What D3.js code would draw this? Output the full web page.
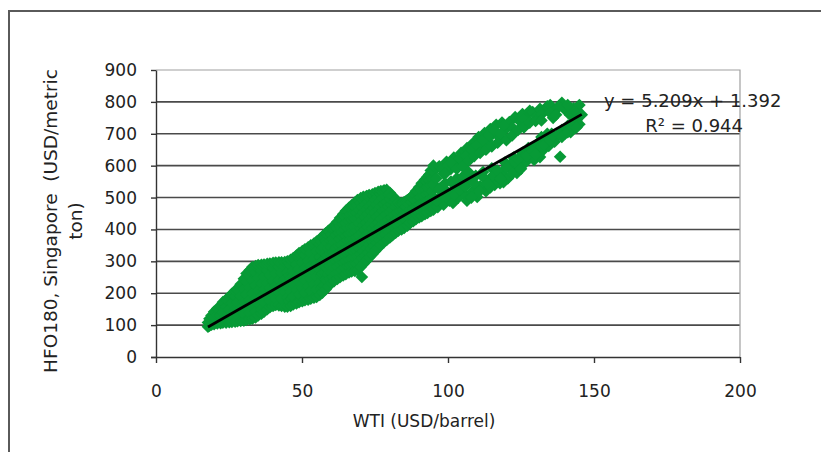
<!DOCTYPE html>
<html>
<head>
<meta charset="utf-8">
<script src="https://cdn.jsdelivr.net/npm/d3@7"></script>
<style>
  html, body { margin: 0; padding: 0; background: #fff; }
  svg { display: block; }
  text { font-family: "DejaVu Sans", Verdana, sans-serif; fill: #222; }
</style>
</head>
<body>
<svg id="chart" width="821" height="452"></svg>
<script>
// Observations: [WTI (USD/barrel), HFO180 Singapore (USD/metric ton)]
const lowPriceYears = [
  [17.8,95],[17.8,108],[18.3,98],[18.3,120],[19.0,101],[19.0,130],
  [19.9,103],[19.9,125],[19.9,142],[21.0,105],[21.0,132],[21.0,152],
  [22.1,106],[22.1,130],[22.1,160],[22.9,108],[22.9,140],[22.9,172],
  [24.0,108],[24.0,128],[24.0,158],[24.0,180],[25.1,109],[25.1,148],[25.1,188],
  [26.0,110],[26.0,130],[26.0,170],[26.0,198],[27.1,111],[27.1,150],[27.1,190],[27.1,208],
  [27.9,112],[27.9,132],[27.9,172],[27.9,212],[29.0,113],[29.0,152],[29.0,192],[29.0,228],
  [30.1,114],[30.1,134],[30.1,174],[30.1,214],[30.1,245],
  [31.0,116],[31.0,156],[31.0,196],[31.0,236],[31.0,262],
  [32.1,118],[32.1,138],[32.1,178],[32.1,218],[32.1,258],[32.1,272],
  [33.0,120],[33.0,160],[33.0,200],[33.0,240],[33.0,282],
  [34.1,124],[34.1,144],[34.1,184],[34.1,224],[34.1,264],[34.1,285],
  [35.0,130],[35.0,168],[35.0,208],[35.0,248],[35.0,288],
  [36.1,136],[36.1,150],[36.1,190],[36.1,230],[36.1,270],[36.1,289],
  [37.0,142],[37.0,172],[37.0,212],[37.0,252],[37.0,290],
  [38.1,150],[38.1,192],[38.1,232],[38.1,272],[38.1,292],
  [39.0,156],[39.0,176],[39.0,216],[39.0,256],[39.0,293],
  [40.1,160],[40.1,198],[40.1,238],[40.1,278],[40.1,295],
  [41.0,163],[41.0,182],[41.0,222],[41.0,262],[41.0,296],
  [42.1,162],[42.1,202],[42.1,242],[42.1,282],[42.1,297],
  [43.0,160],[43.0,184],[43.0,224],[43.0,264],[43.0,297],
  [44.1,158],[44.1,204],[44.1,244],[44.1,284],[44.1,298],
  [45.0,158],[45.0,186],[45.0,226],[45.0,266],[45.0,300],
  [45.6,176],[45.6,216],[45.6,256],[45.6,294],[46.6,182],[46.6,222],[46.6,262],[46.6,300],
  [47.6,180],[47.6,220],[47.6,260],[47.6,300],[48.6,188],[48.6,228],[48.6,268],[48.6,308],
  [49.6,186],[49.6,226],[49.6,266],[49.6,306],[50.6,195],[50.6,235],[50.6,275],[50.6,315],
  [51.6,190],[51.6,230],[51.6,270],[51.6,310],[51.6,335],
  [52.6,198],[52.6,238],[52.6,278],[52.6,318],[52.6,340],
  [53.6,196],[53.6,236],[53.6,276],[53.6,316],[53.6,345],
  [54.6,205],[54.6,245],[54.6,285],[54.6,325],[54.6,352],
  [55.6,200],[55.6,240],[55.6,280],[55.6,320],[55.6,360]
];
const midPriceYears = [
  [46.1,160],[46.1,206],[46.1,246],[46.1,286],[46.1,305],
  [47.0,165],[47.0,190],[47.0,230],[47.0,270],[47.0,310],
  [48.1,168],[48.1,210],[48.1,250],[48.1,290],[48.1,318],
  [49.0,172],[49.0,196],[49.0,236],[49.0,276],[49.0,316],[49.0,326],
  [50.1,175],[50.1,216],[50.1,256],[50.1,296],[50.1,332],
  [51.0,178],[51.0,200],[51.0,240],[51.0,280],[51.0,320],[51.0,338],
  [52.1,180],[52.1,222],[52.1,262],[52.1,302],[52.1,344],
  [53.0,183],[53.0,206],[53.0,246],[53.0,286],[53.0,326],[53.0,350],
  [54.1,186],[54.1,228],[54.1,268],[54.1,308],[54.1,348],[54.1,356],
  [55.0,188],[55.0,212],[55.0,252],[55.0,292],[55.0,332],[55.0,362],
  [56.1,195],[56.1,234],[56.1,274],[56.1,314],[56.1,354],[56.1,370],
  [56.6,215],[56.6,255],[56.6,295],[56.6,335],[56.6,362],
  [57.0,202],[57.0,222],[57.0,262],[57.0,302],[57.0,342],[57.0,378],
  [57.6,225],[57.6,265],[57.6,305],[57.6,345],[57.6,372],
  [58.1,212],[58.1,244],[58.1,284],[58.1,324],[58.1,364],[58.1,388],
  [58.6,238],[58.6,278],[58.6,318],[58.6,358],[58.6,385],
  [59.0,222],[59.0,260],[59.0,300],[59.0,340],[59.0,380],[59.0,396],
  [59.6,245],[59.6,285],[59.6,325],[59.6,365],[59.6,392],
  [60.1,232],[60.1,264],[60.1,304],[60.1,344],[60.1,384],[60.1,404],
  [60.6,250],[60.6,290],[60.6,330],[60.6,370],[60.6,398],
  [61.0,238],[61.0,280],[61.0,320],[61.0,360],[61.0,400],[61.0,412],
  [61.6,262],[61.6,302],[61.6,342],[61.6,382],[61.6,410],
  [62.1,245],[62.1,284],[62.1,324],[62.1,364],[62.1,404],[62.1,424],
  [62.6,268],[62.6,308],[62.6,348],[62.6,388],[62.6,420],
  [63.0,250],[63.0,290],[63.0,330],[63.0,370],[63.0,410],[63.0,436],
  [63.6,272],[63.6,312],[63.6,352],[63.6,392],[63.6,432],
  [64.1,256],[64.1,296],[64.1,336],[64.1,376],[64.1,416],[64.1,448],
  [64.6,280],[64.6,320],[64.6,360],[64.6,400],[64.6,440],
  [65.0,260],[65.0,300],[65.0,340],[65.0,380],[65.0,420],[65.0,458],
  [65.6,285],[65.6,325],[65.6,365],[65.6,405],[65.6,445],[65.6,460],
  [66.1,265],[66.1,306],[66.1,346],[66.1,386],[66.1,426],[66.1,468],
  [66.6,288],[66.6,328],[66.6,368],[66.6,408],[66.6,448],[66.6,468],
  [67.0,268],[67.0,310],[67.0,350],[67.0,390],[67.0,430],[67.0,476],
  [67.6,290],[67.6,330],[67.6,370],[67.6,410],[67.6,450],[67.6,475],
  [68.1,270],[68.1,312],[68.1,352],[68.1,392],[68.1,432],[68.1,472],[68.1,484],
  [68.6,294],[68.6,334],[68.6,374],[68.6,414],[68.6,454],[68.6,484],
  [69.0,273],[69.0,316],[69.0,356],[69.0,396],[69.0,436],[69.0,476],[69.0,492],
  [69.6,300],[69.6,340],[69.6,380],[69.6,420],[69.6,460],[69.6,490],
  [70.1,282],[70.1,322],[70.1,362],[70.1,402],[70.1,442],[70.1,482],[70.1,498],
  [70.5,251],
  [70.6,310],[70.6,350],[70.6,390],[70.6,430],[70.6,470],[70.6,496],
  [71.0,292],[71.0,332],[71.0,372],[71.0,412],[71.0,452],[71.0,492],[71.0,502],
  [71.6,318],[71.6,358],[71.6,398],[71.6,438],[71.6,478],[71.6,500],
  [72.1,302],[72.1,342],[72.1,382],[72.1,422],[72.1,462],[72.1,505],
  [72.6,328],[72.6,368],[72.6,408],[72.6,448],[72.6,488],[72.6,504],
  [73.0,312],[73.0,352],[73.0,392],[73.0,432],[73.0,472],[73.0,508],
  [73.6,338],[73.6,378],[73.6,418],[73.6,458],[73.6,494],
  [74.1,322],[74.1,362],[74.1,402],[74.1,442],[74.1,482],[74.1,510],
  [74.6,348],[74.6,388],[74.6,428],[74.6,468],[74.6,506],
  [75.0,332],[75.0,372],[75.0,412],[75.0,452],[75.0,492],[75.0,514],
  [75.6,358],[75.6,398],[75.6,438],[75.6,478],[75.6,510],
  [76.1,342],[76.1,382],[76.1,422],[76.1,462],[76.1,502],[76.1,518],
  [76.6,368],[76.6,408],[76.6,448],[76.6,488],[76.6,514],
  [77.0,352],[77.0,392],[77.0,432],[77.0,472],[77.0,510],[77.0,520],
  [77.6,378],[77.6,418],[77.6,458],[77.6,498],[77.6,518],
  [78.1,360],[78.1,400],[78.1,440],[78.1,480],[78.1,523],
  [78.6,384],[78.6,424],[78.6,464],[78.6,504],[78.6,520],
  [79.0,367],[79.0,407],[79.0,447],[79.0,487],[79.0,524],
  [79.6,392],[79.6,432],[79.6,472],[79.6,510],
  [80.1,375],[80.1,415],[80.1,455],[80.1,495],[80.1,515],
  [80.6,398],[80.6,438],[80.6,478],[80.6,505],
  [81.0,382],[81.0,422],[81.0,462],[81.0,505],
  [81.6,405],[81.6,445],[81.6,485],
  [82.1,390],[82.1,430],[82.1,470],[82.1,495],
  [82.6,412],[82.6,452],[82.6,480],
  [83.0,396],[83.0,436],[83.0,485],
  [83.6,418],[83.6,458],[83.6,478],
  [84.1,400],[84.1,440],[84.1,482],
  [84.6,422],[84.6,462],[84.6,480],
  [85.0,405],[85.0,445],[85.0,486],
  [85.6,430],[85.6,470],[85.6,488],
  [86.1,412],[86.1,452],[86.1,492],
  [86.6,438],[86.6,478],[86.6,494],
  [87.0,420],[87.0,460],[87.0,498],
  [87.6,445],[87.6,485],[87.6,502],
  [88.1,426],[88.1,466],[88.1,508],
  [88.6,452],[88.6,492],[88.6,510],
  [89.0,432],[89.0,472],[89.0,520],
  [89.6,455],[89.6,495],[89.6,520],
  [90.1,438],[90.1,478],[90.1,532],
  [90.6,460],[90.6,500],[90.6,530],
  [91.0,442],[91.0,482],[91.0,522],[91.0,545],
  [91.6,465],[91.6,505],[91.6,540],
  [92.1,448],[92.1,488],[92.1,528],[92.1,556],
  [92.6,470],[92.6,510],[92.6,550],
  [93.0,452],[93.0,492],[93.0,532],[93.0,565],
  [93.6,474],[93.6,514],[93.6,554],[93.6,572],
  [94.1,458],[94.1,498],[94.1,538],[94.1,585],
  [94.6,480],[94.6,520],[94.6,560],[94.6,588],
  [95.0,462],[95.0,502],[95.0,542],[95.0,582],[95.0,600]
];
const highPriceYears = [
  [97,598],[98.5,575],[99.5,612],[101,590],[102,625],[103.4,618],[104.5,640],
  [105.5,608],[106.5,655],[107.5,632],[108.6,671],[109.5,650],[110.5,690],[111.5,662],
  [112.5,702],[113.5,680],[114.5,715],[115.4,700],[116.5,728],[117.5,690],[118.5,735],
  [119.5,712],[121,737],[122,720],[123,752],[124.5,740],[125.5,762],[127,748],
  [128,772],[129,768],[130.5,756],[131.5,778],[133,770],[134,786],[135,790],
  [136,750],[137,778],[139,797],[140,776],[141.8,759],[143,780],[145,790],
  [96,560],[98,590],[100,600],[102,600],[104,622],[106,630],[108,650],[110,665],
  [112,680],[114,695],[116,710],[119,725],[126,745],[132,762],[138,785],
  [99,575],[101,610],[103,590],[105,598],[107,615],[109,630],[111,640],[113,650],
  [115,660],[117,672],[118,700],[120,680],[122,695],[124,712],[126,720],[128,735],
  [130,740],[132,742],[135,765],[137,760],[141,790],[144,765],
  [96.5,470],[97.5,505],[98.5,478],[99.5,520],[100.5,490],[101.7,483],[102.5,530],
  [103.5,500],[104.5,545],[105.5,512],[106.5,490],[107.5,555],[108.5,520],[109.5,568],
  [110,502],[111,535],[112,580],[113,520],[114,555],[115,592],[116,540],[117.8,545],
  [118.5,575],[119.5,610],[120.5,560],[121.5,590],[122.5,625],[123.6,577],[124.7,596],
  [125.5,640],[126.5,610],[127.5,655],[128.5,630],[129.5,618],[130.5,668],[131.5,627],
  [132.5,648],[133.5,685],[134.5,662],[135.5,700],[136.5,675],[137,690],
  [138.4,628],[139,712],[140,700],[141,725],[142,705],[143,738],[144,743],
  [145.8,760],[145,730],
  [96,490],[97,528],[98.2,505],[99,545],[100,512],[101,550],[102.2,508],[103,560],
  [104,525],[105,565],[106,535],[107,580],[108,500],[109,545],[110.8,520],[112.5,560],
  [114.5,532],[116.5,570],[119,548],[121,602],[123,612],[126,628],[128.5,650],
  [131,660],[132,690],[134,700],
  [113.5,545],[115.5,570],[117,585],[118,560],[120,595],[122,575],[124,620],[125,590],
  [127,630],[129,645],[130,635],[132,660],[133,665],[135,680],[136,695],[138,700],
  [139,690],[141,705],[142,725],[144,720]
];

// Least-squares fit reported on the chart
const trendSlope = 5.209;
const trendIntercept = 1.392;
const trendLabel = "y = 5.209x + 1.392";
const r2Label = "R² = 0.944";

const xTicks = [0, 50, 100, 150, 200];
const yTicks = [0, 100, 200, 300, 400, 500, 600, 700, 800, 900];
const xTitle = "WTI (USD/barrel)";
const yTitleLines = ["HFO180, Singapore  (USD/metric", "ton)"];

const svg = d3.select("#chart");
const W = 821, H = 452;
const plot = { left: 156, right: 740, top: 70, bottom: 357 };

const x = d3.scaleLinear().domain([0, 200]).range([plot.left, plot.right]);
const y = d3.scaleLinear().domain([0, 900]).range([plot.bottom, plot.top]);

// outer frame
svg.append("path")
  .attr("d", `M9,${H + 2} V11 H${W + 2}`)
  .attr("fill", "none")
  .attr("stroke", "#5a5a5a")
  .attr("stroke-width", 2);

// horizontal gridlines
svg.append("g")
  .selectAll("line")
  .data(yTicks.filter(v => v > 0 && v < 900))
  .join("line")
  .attr("x1", plot.left).attr("x2", plot.right)
  .attr("y1", d => y(d)).attr("y2", d => y(d))
  .attr("stroke", "#4a4a4a")
  .attr("stroke-width", 1.6);

// plot area border (top / right)
svg.append("path")
  .attr("d", `M${plot.left},${y(900)} H${plot.right} V${plot.bottom}`)
  .attr("fill", "none")
  .attr("stroke", "#a0a0a0")
  .attr("stroke-width", 1.2);

// axes
const yAxis = svg.append("g")
  .attr("transform", `translate(${plot.left},0)`)
  .call(d3.axisLeft(y).tickValues(yTicks).tickSize(5).tickPadding(14).tickSizeOuter(0));
const xAxis = svg.append("g")
  .attr("transform", `translate(0,${plot.bottom})`)
  .call(d3.axisBottom(x).tickValues(xTicks).tickSize(6).tickPadding(22).tickSizeOuter(0));

[yAxis, xAxis].forEach(g => {
  g.select(".domain").attr("stroke", "#333").attr("stroke-width", 1.4);
  g.selectAll(".tick line").attr("stroke", "#333").attr("stroke-width", 1.4);
  g.selectAll(".tick text")
    .attr("fill", "#222")
    .style("font-family", '"DejaVu Sans", Verdana, sans-serif')
    .style("font-size", "17px");
});
// axis lines slightly cross each other at the origin
xAxis.select(".domain").attr("d", `M${plot.left - 5},0.5H${plot.right}`);

// scatter points as diamonds
const diamond = {
  draw(ctx, size) {
    const r = Math.sqrt(size / 2);
    ctx.moveTo(0, -r); ctx.lineTo(r, 0); ctx.lineTo(0, r); ctx.lineTo(-r, 0); ctx.closePath();
  }
};
const pts = [...lowPriceYears, ...midPriceYears, ...highPriceYears]
  .map(([w, h]) => ({ wti: w, hfo: h }));
svg.append("g")
  .selectAll("path")
  .data(pts)
  .join("path")
  .attr("d", d3.symbol().type(diamond).size(80))
  .attr("transform", d => `translate(${x(d.wti)},${y(d.hfo)})`)
  .attr("fill", "#079a36");

// linear trend line over the observed WTI range
const [xMin, xMax] = d3.extent(pts, d => d.wti);
svg.append("line")
  .attr("x1", x(xMin)).attr("y1", y(trendSlope * xMin + trendIntercept))
  .attr("x2", x(xMax)).attr("y2", y(trendSlope * xMax + trendIntercept))
  .attr("stroke", "#000")
  .attr("stroke-width", 2.8);

// trend equation and R²
svg.append("text")
  .attr("x", 604).attr("y", 107)
  .style("font-size", "18px")
  .text(trendLabel);
svg.append("text")
  .attr("x", 743).attr("y", 132)
  .attr("text-anchor", "end")
  .style("font-size", "18px")
  .text(r2Label);

// axis titles
svg.append("text")
  .attr("x", 424).attr("y", 427)
  .attr("text-anchor", "middle")
  .style("font-size", "17px")
  .text(xTitle);

const yt = svg.append("text")
  .attr("transform", "translate(0,221) rotate(-90)")
  .attr("text-anchor", "middle")
  .style("font-size", "18.5px")
  .style("white-space", "pre");
yt.selectAll("tspan")
  .data(yTitleLines)
  .join("tspan")
  .attr("x", 0)
  .attr("y", (d, i) => 57 + i * 25)
  .text(d => d);
</script>
</body>
</html>
